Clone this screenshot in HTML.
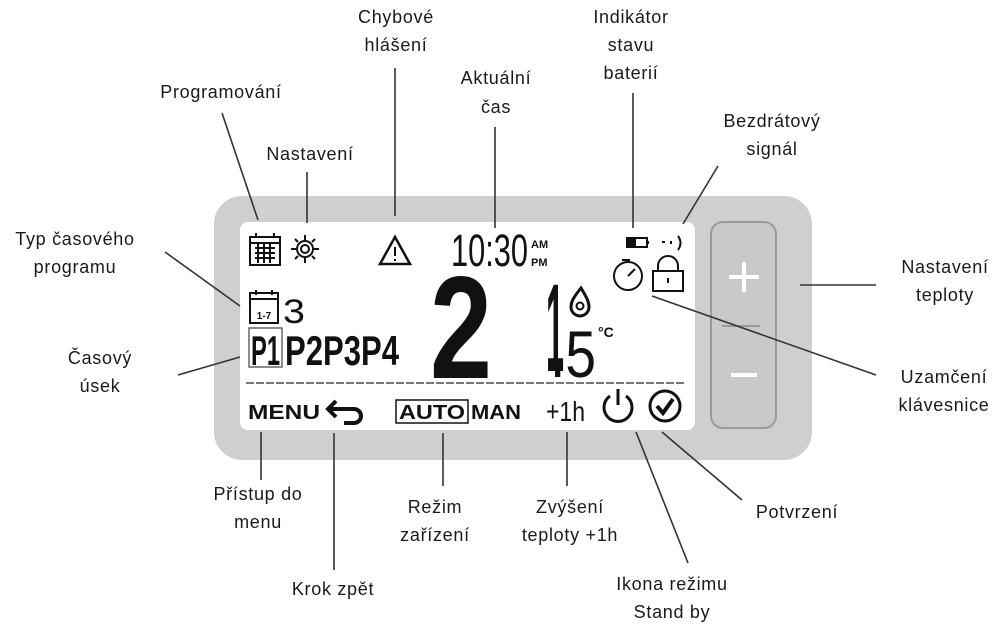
<!DOCTYPE html>
<html><head><meta charset="utf-8"><style>
html,body{margin:0;padding:0;background:#fff;}
svg{display:block}
.l{font-family:"Liberation Sans",sans-serif;font-size:18px;fill:#1a1a1a;text-anchor:middle;letter-spacing:0.7px}
.ln{stroke:#333;stroke-width:1.6;fill:none}
.b{font-family:"Liberation Sans",sans-serif;font-weight:bold;fill:#111}
.n{font-family:"Liberation Sans Narrow","Liberation Sans",sans-serif;fill:#111}
</style></head><body>
<svg width="1000" height="633" viewBox="0 0 1000 633">
<rect x="214" y="196" width="598" height="264" rx="28" fill="#cfcfcf"/>
<rect x="240" y="222" width="455" height="208" rx="8" fill="#fff"/>
<rect x="711" y="222" width="65" height="206" rx="12" fill="#c9c9c9" stroke="#9a9a9a" stroke-width="2"/>
<path d="M744 262v30M729 277h30" stroke="#fff" stroke-width="4"/>
<path d="M731 375h26" stroke="#fff" stroke-width="4"/>
<path d="M722 326h38" stroke="#999" stroke-width="2"/>
<path class="ln" d="M222 113L258 220M307 172V223M395 68V216M495 127V228M633 93V228M718 166L683 224M165 252L240 306M800 285H876M178 375L240 357M652 296L876 375M261 432V480M334 433V570M443 433V486M567 432V486M636 432L688 563M662 432L742 500"/>
<text class="l" x="396" y="23">Chybové</text><text class="l" x="396" y="51">hlášení</text>
<text class="l" x="631" y="23">Indikátor</text><text class="l" x="631" y="51">stavu</text><text class="l" x="631" y="79">baterií</text>
<text class="l" x="221" y="98">Programování</text>
<text class="l" x="496" y="84">Aktuální</text><text class="l" x="496" y="113">čas</text>
<text class="l" x="772" y="127">Bezdrátový</text><text class="l" x="772" y="155">signál</text>
<text class="l" x="310" y="160">Nastavení</text>
<text class="l" x="75" y="245">Typ časového</text><text class="l" x="75" y="273">programu</text>
<text class="l" x="945" y="273">Nastavení</text><text class="l" x="945" y="301">teploty</text>
<text class="l" x="100" y="364">Časový</text><text class="l" x="100" y="392">úsek</text>
<text class="l" x="944" y="383">Uzamčení</text><text class="l" x="944" y="411">klávesnice</text>
<text class="l" x="258" y="500">Přístup do</text><text class="l" x="258" y="528">menu</text>
<text class="l" x="435" y="513">Režim</text><text class="l" x="435" y="541">zařízení</text>
<text class="l" x="570" y="513">Zvýšení</text><text class="l" x="570" y="541">teploty +1h</text>
<text class="l" x="797" y="518">Potvrzení</text>
<text class="l" x="333" y="595">Krok zpět</text>
<text class="l" x="672" y="590">Ikona režimu</text><text class="l" x="672" y="618">Stand by</text>
<g stroke="#111" fill="none" stroke-width="2">
<rect x="250" y="237" width="30" height="28"/>
<path d="M250 243h30M255 248h20M255 253h20M255 258h20M258 243v20M264 243v20M270 243v20M256 233v5M274 233v5"/>
<circle cx="305" cy="249" r="8"/><circle cx="305" cy="249" r="4"/>
<path d="M305 235v5M305 258v5M291 249h5M314 249h5M295 239l3 3M312 256l3 3M295 259l3-3M312 242l3-3"/>
<path d="M395 237L380 264H410Z" stroke-width="2.5"/><path d="M395 247v9M395 259v2"/>
<rect x="627" y="238" width="20" height="9"/><path d="M648 241v3"/><rect x="629" y="240" width="6" height="5" fill="#111"/>
<path d="M662 242h3M671 241v3M678 236q5 7 0 14"/>
<circle cx="628" cy="276" r="14"/><path d="M628 276l7-7M622 260h8"/>
<rect x="653" y="271" width="30" height="20"/><path d="M658 271v-5a10 10 0 0 1 20 0v5M668 278v5"/>
<rect x="250" y="293" width="28" height="30"/><path d="M250 299h28M256 290v5M272 290v5"/>
<rect x="249" y="328" width="33" height="39" stroke-width="1.5" stroke="#666"/>
<path d="M246 383H684" stroke="#777" stroke-width="2" stroke-dasharray="8 2"/>
<path d="M330 409h24a7 7 0 0 1 0 14h-10" stroke-width="4"/><path d="M336 401l-8 8 8 8" stroke-width="4"/>
<rect x="396" y="400" width="72" height="23" stroke-width="1.5"/>
<path d="M610 396a14 14 0 1 0 16 0M618 389v16" stroke-width="3"/>
<circle cx="665" cy="406" r="15" stroke-width="3"/><path d="M657 406l6 7 10-14" stroke-width="4"/>
<path d="M581 288c-8 10-10 14-10 19a9 9 0 0 0 18 0c0-5-2-9-8-19z" stroke-width="3"/><circle cx="580" cy="306" r="3.5"/>
</g>
<text class="n" x="264" y="319" font-size="10" font-weight="bold" text-anchor="middle">1-7</text>
<text class="n" x="283" y="323" font-size="34" textLength="22" lengthAdjust="spacingAndGlyphs">3</text>
<text class="n" x="251" y="365" font-size="42" font-weight="bold" textLength="29" lengthAdjust="spacingAndGlyphs">P1</text>
<text class="n" x="285" y="365" font-size="42" font-weight="bold" textLength="114" lengthAdjust="spacingAndGlyphs">P2P3P4</text>
<text class="n" x="451" y="266" font-size="45" textLength="77" lengthAdjust="spacingAndGlyphs">10:30</text>
<text class="b" x="531" y="248" font-size="11">AM</text><text class="b" x="531" y="266" font-size="11">PM</text>
<text class="b" x="430" y="378" font-size="146" textLength="62" lengthAdjust="spacingAndGlyphs">2</text>
<text class="b" x="546" y="371" font-size="125" textLength="18" lengthAdjust="spacingAndGlyphs">1</text>
<text class="n" x="550" y="377" font-size="66" textLength="46" lengthAdjust="spacingAndGlyphs">.5</text>
<text class="b" x="598" y="337" font-size="14">°C</text>
<text class="b" x="248" y="419" font-size="20" textLength="72" lengthAdjust="spacingAndGlyphs">MENU</text>
<text class="b" x="399" y="419" font-size="20" textLength="66" lengthAdjust="spacingAndGlyphs">AUTO</text>
<text class="b" x="471" y="419" font-size="20" textLength="50" lengthAdjust="spacingAndGlyphs">MAN</text>
<text class="n" x="546" y="421" font-size="28" textLength="39" lengthAdjust="spacingAndGlyphs">+1h</text>
</svg>
</body></html>
